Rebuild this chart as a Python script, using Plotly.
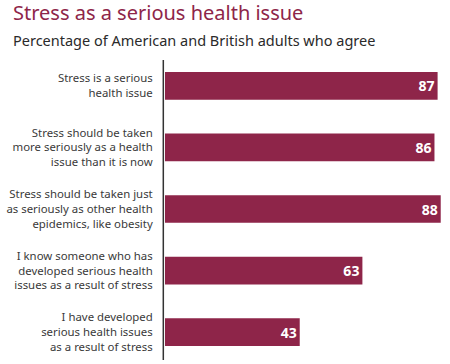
import plotly.graph_objects as go

categories = [
    "Stress is a serious<br>health issue",
    "Stress should be taken<br>more seriously as a health<br>issue than it is now",
    "Stress should be taken just<br>as seriously as other health<br>epidemics, like obesity",
    "I know someone who has<br>developed serious health<br>issues as a result of stress",
    "I have developed<br>serious health issues<br>as a result of stress",
]
values = [87, 86, 88, 63, 43]

BAR = "#8E2549"
FONT = "Noto Sans"

W, H = 450, 364
ml, mr, mt, mb = 165, 3, 55, 1
pw = W - ml - mr

fig = go.Figure(go.Bar(
    y=categories, x=values, orientation="h",
    marker=dict(color=BAR, line=dict(width=0)),
    width=0.45,
    text=[str(v) for v in values], textposition="inside",
    insidetextanchor="end",
    textfont=dict(color="white", size=14, family=FONT, weight="bold"),
    cliponaxis=False,
))

fig.update_layout(
    width=W, height=H,
    margin=dict(l=ml, r=mr, t=mt, b=mb, autoexpand=False),
    plot_bgcolor="white", paper_bgcolor="white",
    showlegend=False,
    uniformtext=dict(minsize=14, mode="show"),
    xaxis=dict(range=[0, 90], visible=False, fixedrange=True, automargin=False),
    yaxis=dict(autorange="reversed", showline=False, showgrid=False, automargin=False,
               ticks="outside", ticklen=9, tickcolor="rgba(0,0,0,0)",
               tickfont=dict(size=11.4, color="#3a3a3a", family=FONT)),
    annotations=[
        dict(text="Stress as a serious health issue", xref="paper", yref="paper",
             x=(11 - ml) / pw, y=1, yshift=mt + 3, xanchor="left", yanchor="top",
             showarrow=False, font=dict(size=20, color="#8E2549", family=FONT)),
        dict(text="Percentage of American and British adults who agree", xref="paper", yref="paper",
             x=(11 - ml) / pw, y=1, yshift=mt - 28, xanchor="left", yanchor="top",
             showarrow=False, font=dict(size=14.5, color="#2a2a2a", family=FONT)),
    ],
    shapes=[dict(type="line", xref="paper", yref="paper", x0=-0.006, x1=-0.006,
                 y0=(H - 360 - mb) / (H - mt - mb), y1=(H - 60 - mb) / (H - mt - mb),
                 line=dict(color="#333333", width=1.5))],
)

fig.write_html("out.html",
               config={"displayModeBar": False, "staticPlot": True},
               post_script="document.body.style.margin='0';document.body.style.overflow='hidden';")
